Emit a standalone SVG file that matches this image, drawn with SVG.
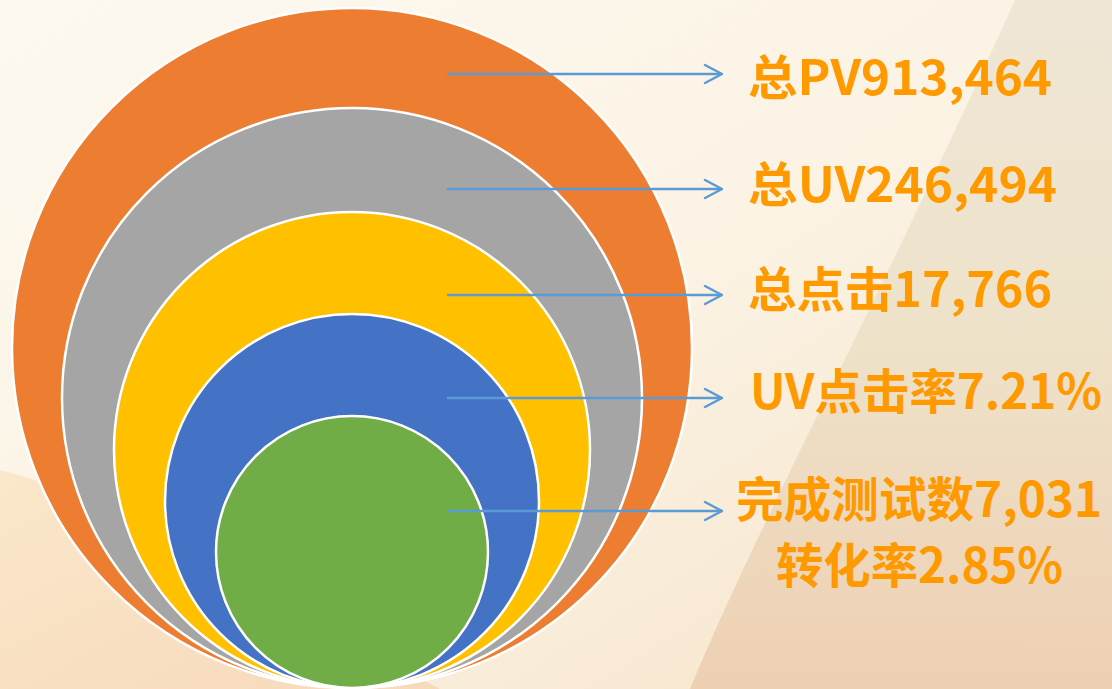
<svg xmlns="http://www.w3.org/2000/svg" width="1112" height="689" viewBox="0 0 1112 689">
  <defs>
    <linearGradient id="bg" x1="0" y1="0" x2="1" y2="1">
      <stop offset="0" stop-color="#fdf9f0"/>
      <stop offset="0.5" stop-color="#fbf3e4"/>
      <stop offset="1" stop-color="#f6e2c8"/>
    </linearGradient>
    <linearGradient id="band" x1="0" y1="0" x2="0" y2="1">
      <stop offset="0" stop-color="#efe6d6"/>
      <stop offset="0.5" stop-color="#eee2c9"/>
      <stop offset="1" stop-color="#eed0b3"/>
    </linearGradient>
    <linearGradient id="low" x1="0" y1="0" x2="1" y2="1">
      <stop offset="0" stop-color="#fbe7cb"/>
      <stop offset="1" stop-color="#f7d9bb"/>
    </linearGradient>
    <marker id="arr" viewBox="0 0 20 22" refX="19" refY="11" markerWidth="20" markerHeight="22" markerUnits="userSpaceOnUse" orient="auto">
      <path d="M2,2 L19,11 L2,20" fill="none" stroke="#5B9BD5" stroke-width="2.5" stroke-linecap="round" stroke-linejoin="round"/>
    </marker>
    <style>
      .ring { stroke: #ffffff; stroke-width: 2.5; }
      .conn { stroke: #5B9BD5; stroke-width: 2.5; fill: none; marker-end: url(#arr); }
      .lbl { font-family: "Noto Sans CJK SC", "Liberation Sans", sans-serif; font-weight: bold; font-size: 48px; fill: #FF9900; }
    </style>
  </defs>

  <rect x="0" y="0" width="1112" height="689" fill="url(#bg)"/>
  <path d="M1015,0 L1112,0 L1112,689 L690,689 C760,520 880,300 1015,0 Z" fill="url(#band)"/>
  <path d="M0,470 C120,500 260,590 440,689 L0,689 Z" fill="url(#low)"/>

  <g id="circle-pv"><circle class="ring" cx="352" cy="348" r="340" fill="#ED7D31"/></g>
  <g id="circle-uv"><circle class="ring" cx="352" cy="398" r="290" fill="#A5A5A5"/></g>
  <g id="circle-click"><circle class="ring" cx="352" cy="450" r="238" fill="#FFC000"/></g>
  <g id="circle-rate"><circle class="ring" cx="352" cy="501" r="187" fill="#4472C4"/></g>
  <g id="circle-test"><circle class="ring" cx="352" cy="552" r="136" fill="#70AD47"/></g>

  <g id="connectors">
    <line class="conn" x1="447" y1="74" x2="722" y2="74"/>
    <line class="conn" x1="447" y1="189" x2="722" y2="189"/>
    <line class="conn" x1="447" y1="295" x2="722" y2="295"/>
    <line class="conn" x1="447" y1="398" x2="722" y2="398"/>
    <line class="conn" x1="447" y1="511" x2="722" y2="511"/>
  </g>

  <g id="label-pv"><text class="lbl" x="748" y="95" textLength="304" lengthAdjust="spacingAndGlyphs">总PV913,464</text></g>
  <g id="label-uv"><text class="lbl" x="748" y="202" textLength="309" lengthAdjust="spacingAndGlyphs">总UV246,494</text></g>
  <g id="label-click"><text class="lbl" x="748" y="307" textLength="304" lengthAdjust="spacingAndGlyphs">总点击17,766</text></g>
  <g id="label-rate"><text class="lbl" x="750" y="409" textLength="352" lengthAdjust="spacingAndGlyphs">UV点击率7.21%</text></g>
  <g id="label-test">
    <text class="lbl" x="736" y="517" textLength="366" lengthAdjust="spacingAndGlyphs">完成测试数7,031</text>
    <text class="lbl" x="776" y="583" textLength="287" lengthAdjust="spacingAndGlyphs">转化率2.85%</text>
  </g>
</svg>
